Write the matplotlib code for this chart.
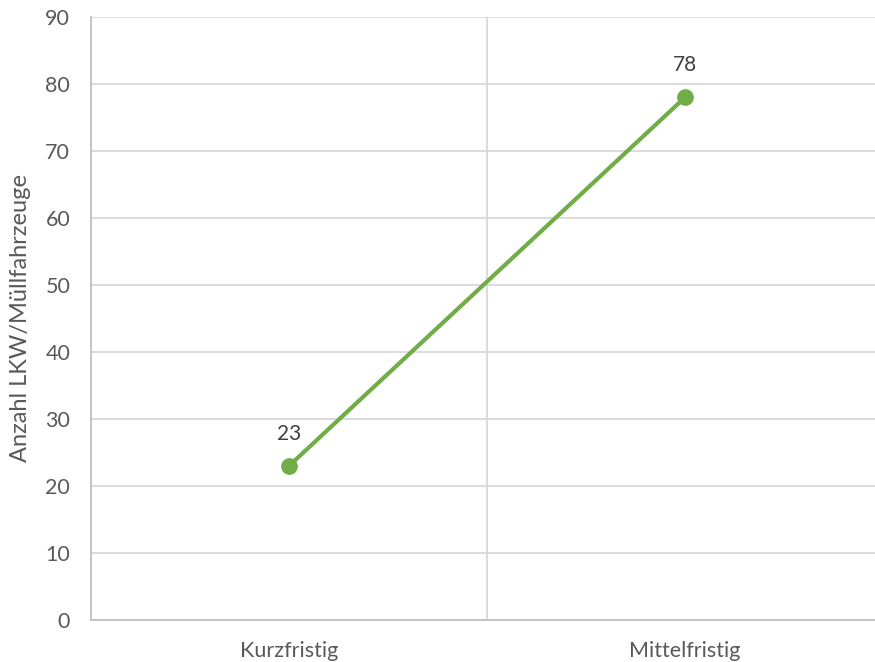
import matplotlib
matplotlib.use("Agg")
import matplotlib.pyplot as plt

categories = ["Kurzfristig", "Mittelfristig"]
values = [23, 78]
yticks = [0, 10, 20, 30, 40, 50, 60, 70, 80, 90]
ylabel = "Anzahl LKW/Müllfahrzeuge"

plt.rcParams['font.family'] = ['Lato', 'DejaVu Sans']

fig = plt.figure(figsize=(8.75, 6.62), dpi=100)
W, H = 875, 662
left, right, top, bottom = 91, 883, 17, 620
ax = fig.add_axes([left / W, 1 - bottom / H, (right - left) / W, (bottom - top) / H])

x = list(range(len(categories)))
ax.plot(x, values, color="#70ad47", linewidth=3, marker="o", markersize=11,
        solid_capstyle="round", zorder=3, clip_on=False)
for xi, v in zip(x, values):
    ax.annotate(str(v), (xi, v), xytext=(0, 23), textcoords="offset points",
                ha="center", va="center", fontsize=15, color="#404040")

ax.set_xlim(-0.5, len(categories) - 0.5)
ax.set_ylim(0, 90)
ax.set_yticks(yticks)
ax.set_xticks(x)
ax.set_xticklabels(categories)
ax.set_xticks([i + 0.5 for i in range(len(categories) - 1)], minor=True)

ax.grid(axis="y", which="major", color="#d9d9d9", linewidth=1.3)
ax.grid(axis="x", which="minor", color="#d9d9d9", linewidth=1.3)
ax.set_axisbelow(True)

for s in ["top", "right"]:
    ax.spines[s].set_visible(False)
ax.spines["left"].set_color("#bfbfbf")
ax.spines["bottom"].set_color("#bfbfbf")
ax.spines["left"].set_linewidth(1.3)
ax.spines["bottom"].set_linewidth(1.3)

ax.tick_params(axis="both", which="both", length=0, colors="#595959", labelsize=15.5)
ax.tick_params(axis="y", pad=15)
ax.tick_params(axis="x", pad=15)

ax.set_ylabel(ylabel, fontsize=17, color="#595959", labelpad=10)

fig.savefig("out.png", dpi=100)
